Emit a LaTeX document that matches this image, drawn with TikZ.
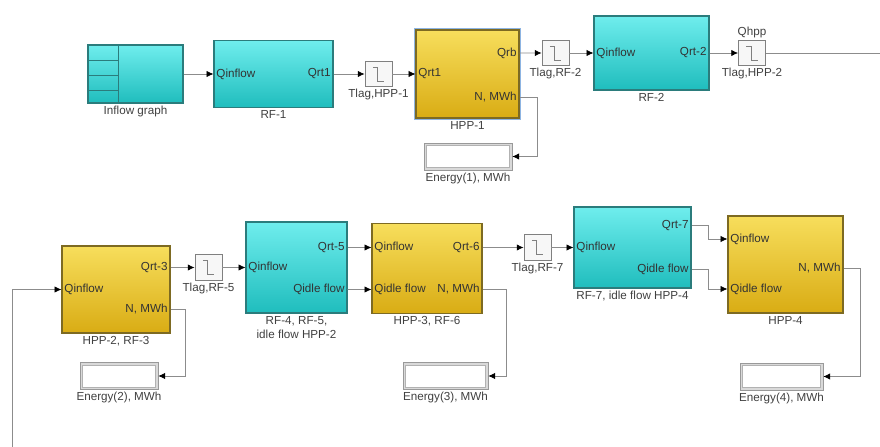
\documentclass[tikz,border=0pt]{standalone}
\usepackage{fontspec}
\setmainfont{Liberation Sans}
\usetikzlibrary{arrows.meta}
\definecolor{rfcyan}{HTML}{1FBDBD}
\definecolor{rfcyanlt}{HTML}{6FEDED}
\definecolor{rfedge}{HTML}{2B7C7C}
\definecolor{hppgold}{HTML}{D9AC14}
\definecolor{hppgoldlt}{HTML}{F7DE5C}
\definecolor{hppedge}{HTML}{7D6A22}
\definecolor{selblue}{HTML}{8DB4E2}
\definecolor{wiregray}{HTML}{8C8C8C}

\begin{document}
\begin{tikzpicture}[
  font=\fontsize{8.3}{10}\selectfont,
  rf/.style={rectangle, draw=rfedge, line width=0.9pt,
             top color=rfcyanlt, bottom color=rfcyan},
  hpp/.style={rectangle, draw=hppedge, line width=0.9pt,
              top color=hppgoldlt, bottom color=hppgold},
  tlag/.style={rectangle, draw=gray, line width=0.5pt, fill=gray!6,
               minimum width=0.68cm, minimum height=0.64cm,
               path picture={\draw[gray, line width=0.4pt,
                 shift={(path picture bounding box.center)}]
                 (-0.14,0.18) -- (-0.03,0.18) -- (-0.03,-0.18) -- (0.14,-0.18);}},
  disp/.style={rectangle, draw=gray!80, line width=0.5pt, fill=gray!30,
               minimum height=0.68cm,
               path picture={\draw[gray!60, fill=white]
                 ([shift={(1.8pt,-1.8pt)}]path picture bounding box.north west)
                 rectangle
                 ([shift={(-1.8pt,1.8pt)}]path picture bounding box.south east);}},
  port/.style={inner sep=2pt, text=black!80},
  lbl/.style={text=black!75, inner sep=1.5pt},
  wire/.style={draw=wiregray, line width=0.5pt,
               -{Latex[length=1.7mm,width=1.6mm,color=black]}},
  line/.style={draw=wiregray, line width=0.5pt}]

\useasboundingbox (0,0) rectangle (22,-11.175);

% ---- top row ---------------------------------------------------------
\node[rf, minimum width=2.375cm, minimum height=1.45cm,
      label={[lbl]below:Inflow graph},
      path picture={\draw[rfedge, line width=0.4pt]
        ([xshift=0.75cm]path picture bounding box.north west) --
        ([xshift=0.75cm]path picture bounding box.south west)
        ([yshift=-0.38cm]path picture bounding box.north west) --
        ([xshift=0.75cm,yshift=-0.38cm]path picture bounding box.north west)
        ([yshift=-0.76cm]path picture bounding box.north west) --
        ([xshift=0.75cm,yshift=-0.76cm]path picture bounding box.north west)
        ([yshift=-1.12cm]path picture bounding box.north west) --
        ([xshift=0.75cm,yshift=-1.12cm]path picture bounding box.north west);}]
      (inflow) at (3.3875,-1.85) {};

\node[rf, minimum width=2.975cm, minimum height=1.675cm,
      label={[lbl]below:RF-1}] (rf1) at (6.8375,-1.85) {};
\node[port, anchor=west] (rf1in) at (rf1.west) {Qinflow};
\node[port, anchor=east] (rf1out) at (rf1.east) {Qrt1};

\node[tlag, label={[lbl]below:{Tlag,HPP-1}}] (tl1) at (9.4625,-1.85) {};

\node[hpp, minimum width=2.575cm, minimum height=2.2cm,
      preaction={draw=selblue, line width=3pt},
      label={[lbl]below:HPP-1}] (hpp1) at (11.6875,-1.85) {};
\node[port, anchor=west] (h1in) at (hpp1.west) {Qrt1};
\node[port, anchor=east] (h1q) at ([yshift=0.525cm]hpp1.east) {Qrb};
\node[port, anchor=east] (h1n) at ([yshift=-0.575cm]hpp1.east) {N, MWh};

\node[disp, minimum width=2.2cm, label={[lbl]below:{Energy(1), MWh}}]
     (disp1) at (11.7,-3.9125) {};

\node[tlag, label={[lbl]below:{Tlag,RF-2}}] (tl2) at (13.8875,-1.325) {};

\node[rf, minimum width=2.875cm, minimum height=1.85cm,
      label={[lbl]below:RF-2}] (rf2) at (16.2875,-1.325) {};
\node[port, anchor=west] (rf2in) at (rf2.west) {Qinflow};
\node[port, anchor=east] (rf2out) at (rf2.east) {Qrt-2};

\node[tlag, label={[lbl]above:Qhpp}, label={[lbl]below:{Tlag,HPP-2}}]
     (tl3) at (18.8,-1.325) {};
\coordinate (outr) at (22,-1.325);

\draw[wire] (inflow.east) -- (rf1.west);
\draw[wire] (rf1.east) -- (tl1.west);
\draw[wire] (tl1.east) -- (hpp1.west);
\draw[wire] (hpp1.east |- h1q) -- (tl2.west);
\draw[wire] (hpp1.east |- h1n) -- ++(0.45,0) |- (disp1.east);
\draw[wire] (tl2.east) -- (rf2.west);
\draw[wire] (rf2.east) -- (tl3.west);
\draw[line] (tl3.east) -- (outr);

% ---- bottom row ------------------------------------------------------
\node[hpp, minimum width=2.7cm, minimum height=2.175cm,
      label={[lbl]below:{HPP-2, RF-3}}] (hpp2) at (2.9,-7.2375) {};
\node[port, anchor=west] (h2in) at (hpp2.west) {Qinflow};
\node[port, anchor=east] (h2q) at ([yshift=0.55cm]hpp2.east) {Qrt-3};
\node[port, anchor=east] (h2n) at ([yshift=-0.5cm]hpp2.east) {N, MWh};
\coordinate (fb) at (0.3,-11.175);

\node[disp, minimum width=1.95cm, label={[lbl]below:{Energy(2), MWh}}]
     (disp2) at (2.975,-9.4) {};

\node[tlag, label={[lbl]below:{Tlag,RF-5}}] (tl5) at (5.2125,-6.6875) {};

\node[rf, minimum width=2.525cm, minimum height=2.275cm,
      label={[lbl, align=center]below:{RF-4, RF-5,\\idle flow HPP-2}}]
     (rf45) at (7.4125,-6.6875) {};
\node[port, anchor=west] (r45in) at (rf45.west) {Qinflow};
\node[port, anchor=east] (r45q) at ([yshift=0.5cm]rf45.east) {Qrt-5};
\node[port, anchor=east] (r45i) at ([yshift=-0.55cm]rf45.east) {Qidle flow};

\node[hpp, minimum width=2.75cm, minimum height=2.25cm,
      label={[lbl]below:{HPP-3, RF-6}}] (hpp3) at (10.675,-6.7125) {};
\node[port, anchor=west] (h3in) at ([yshift=0.525cm]hpp3.west) {Qinflow};
\node[port, anchor=west] (h3i) at ([yshift=-0.525cm]hpp3.west) {Qidle flow};
\node[port, anchor=east] (h3q) at ([yshift=0.525cm]hpp3.east) {Qrt-6};
\node[port, anchor=east] (h3n) at ([yshift=-0.525cm]hpp3.east) {N, MWh};

\node[disp, minimum width=2.125cm, label={[lbl]below:{Energy(3), MWh}}]
     (disp3) at (11.1375,-9.4) {};

\node[tlag, label={[lbl]below:{Tlag,RF-7}}] (tl7) at (13.4375,-6.1875) {};

\node[rf, minimum width=2.925cm, minimum height=2.025cm,
      label={[lbl]below:{RF-7, idle flow HPP-4}}] (rf7) at (15.8125,-6.1875) {};
\node[port, anchor=west] (r7in) at (rf7.west) {Qinflow};
\node[port, anchor=east] (r7q) at ([yshift=0.55cm]rf7.east) {Qrt-7};
\node[port, anchor=east] (r7i) at ([yshift=-0.55cm]rf7.east) {Qidle flow};

\node[hpp, minimum width=2.875cm, minimum height=2.425cm,
      label={[lbl]below:HPP-4}] (hpp4) at (19.6375,-6.6125) {};
\node[port, anchor=west] (h4in) at ([yshift=0.6375cm]hpp4.west) {Qinflow};
\node[port, anchor=west] (h4i) at ([yshift=-0.6125cm]hpp4.west) {Qidle flow};
\node[port, anchor=east] (h4n) at ([yshift=-0.09cm]hpp4.east) {N, MWh};

\node[disp, minimum width=2.075cm, label={[lbl]below:{Energy(4), MWh}}]
     (disp4) at (19.5375,-9.4125) {};

\draw[wire] (fb) |- (hpp2.west);
\draw[wire] (hpp2.east |- h2q) -- (tl5.west);
\draw[wire] (hpp2.east |- h2n) -- ++(0.375,0) |- (disp2.east);
\draw[wire] (tl5.east) -- (rf45.west);
\draw[wire] (rf45.east |- r45q) -- (hpp3.west |- h3in);
\draw[wire] (rf45.east |- r45i) -- (hpp3.west |- h3i);
\draw[wire] (hpp3.east |- h3q) -- (tl7.west);
\draw[wire] (hpp3.east |- h3n) -- ++(0.6,0) |- (disp3.east);
\draw[wire] (tl7.east) -- (rf7.west);
\draw[wire] (rf7.east |- r7q) -- ++(0.425,0) |- (hpp4.west |- h4in);
\draw[wire] (rf7.east |- r7i) -- ++(0.425,0) |- (hpp4.west |- h4i);
\draw[wire] (hpp4.east |- h4n) -- ++(0.425,0) |- (disp4.east);
\end{tikzpicture}
\end{document}
